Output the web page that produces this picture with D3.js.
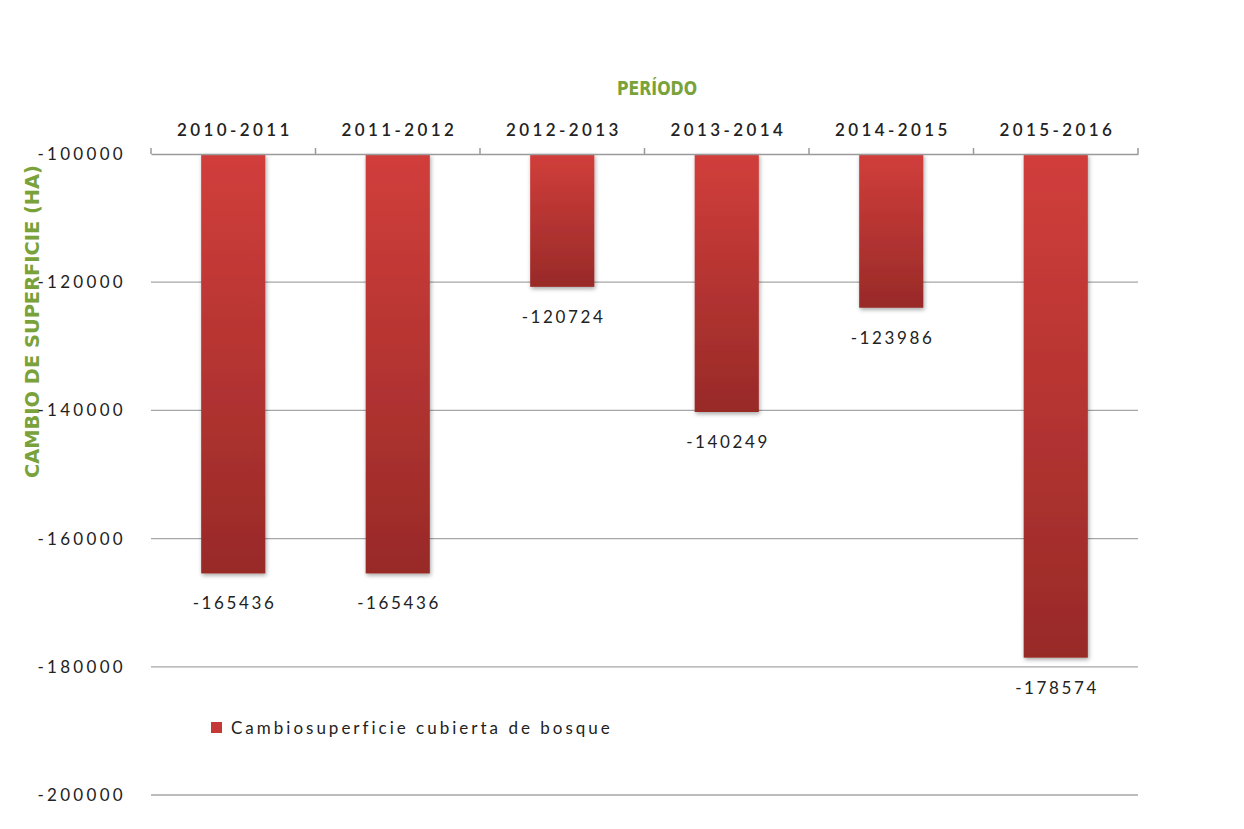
<!DOCTYPE html>
<html><head><meta charset="utf-8">
<script src="https://cdn.jsdelivr.net/npm/d3@7"></script>
<style>body{margin:0;background:#fff}</style>
</head><body>
<svg id="c" width="1244" height="829"></svg>
<script>
const categories = ["2010-2011","2011-2012","2012-2013","2013-2014","2014-2015","2015-2016"];
const values = [-165436,-165436,-120724,-140249,-123986,-178574];
const yTicks = [-100000,-120000,-140000,-160000,-180000,-200000];
const seriesName = "Cambiosuperficie cubierta de bosque";
const xTitle = "PERÍODO";
const yTitle = "CAMBIO DE SUPERFICIE (HA)";

const svg = d3.select("#c");
const L = 151, R = 1138, T = 154, B = 795;
const FONT = "Lato, 'Open Sans', sans-serif";
const x = d3.scaleBand().domain(categories).range([L, R]).paddingInner(0.61).paddingOuter(0.305);
const y = d3.scaleLinear().domain([-100000, -200000]).range([T, B]);

const defs = svg.append("defs");
const g = defs.append("linearGradient").attr("id","bg").attr("x1",0).attr("y1",0).attr("x2",0).attr("y2",1);
g.append("stop").attr("offset","0%").attr("stop-color","#d13e3b");
g.append("stop").attr("offset","100%").attr("stop-color","#982a28");
const f = defs.append("filter").attr("id","sh").attr("x","-20%").attr("y","-20%").attr("width","140%").attr("height","140%");
f.append("feDropShadow").attr("dx",1).attr("dy",2).attr("stdDeviation",2).attr("flood-color","#000").attr("flood-opacity",0.35);

// gridlines
svg.append("g").selectAll("line").data(yTicks.slice(1)).join("line")
  .attr("x1",L).attr("x2",R).attr("y1",d=>y(d)).attr("y2",d=>y(d))
  .attr("stroke","#a6a6a6").attr("stroke-width",1.3);

// y title (drawn first so labels sit above)
svg.append("text").attr("transform","translate(39,478) rotate(-90)")
  .attr("font-family","'DejaVu Sans Condensed','DejaVu Sans',sans-serif")
  .attr("font-size",19).attr("font-weight","bold").attr("fill","#7aa23a")
  .attr("textLength",313).attr("lengthAdjust","spacingAndGlyphs").text(yTitle);

// y tick labels
svg.append("g").selectAll("text").data(yTicks).join("text")
  .attr("x",126).attr("y",d=>y(d)).attr("dy","0.35em").attr("text-anchor","end")
  .attr("font-family",FONT).attr("font-size",17).attr("letter-spacing",3.3).attr("fill","#222")
  .text(d=>d);

// bars
svg.append("g").selectAll("rect").data(values).join("rect")
  .attr("x",(d,i)=>x(categories[i])).attr("width",x.bandwidth())
  .attr("y",T).attr("height",d=>y(d)-T)
  .attr("fill","url(#bg)").attr("filter","url(#sh)");

// top axis
const ax = d3.axisTop(x).tickSize(0).tickPadding(18);
const axg = svg.append("g").attr("transform",`translate(0,${T})`).call(ax);
axg.select(".domain").attr("stroke","#9a9a9a").attr("stroke-width",1.5);
axg.selectAll("text").attr("font-family",FONT).attr("font-size",17).attr("fill","#222")
  .attr("font-weight","600").attr("letter-spacing",3.4).attr("dx",1.7);
svg.append("g").selectAll("line").data(d3.range(categories.length+1)).join("line")
  .attr("x1",i=>L+i*(R-L)/categories.length).attr("x2",i=>L+i*(R-L)/categories.length)
  .attr("y1",T).attr("y2",T-6).attr("stroke","#9a9a9a").attr("stroke-width",1.5);

// data labels
svg.append("g").selectAll("text").data(values).join("text")
  .attr("x",(d,i)=>x(categories[i])+x.bandwidth()/2+1.3).attr("y",d=>y(d)+36)
  .attr("text-anchor","middle").attr("font-family",FONT).attr("letter-spacing",2.6)
  .attr("font-size",17).attr("fill","#222").text(d=>d);

// x title
svg.append("text").attr("x",617).attr("y",95)
  .attr("font-family","'DejaVu Sans Condensed','DejaVu Sans',sans-serif")
  .attr("font-size",20).attr("font-weight","bold").attr("fill","#7aa23a")
  .attr("textLength",80).attr("lengthAdjust","spacingAndGlyphs").text(xTitle);

// legend
svg.append("rect").attr("x",211).attr("y",722).attr("width",11).attr("height",11).attr("fill","#c63836");
svg.append("text").attr("x",231).attr("y",728).attr("dy","0.35em").attr("letter-spacing",3)
  .attr("font-family",FONT).attr("font-size",17).attr("fill","#222").text(seriesName);
</script>
</body></html>
